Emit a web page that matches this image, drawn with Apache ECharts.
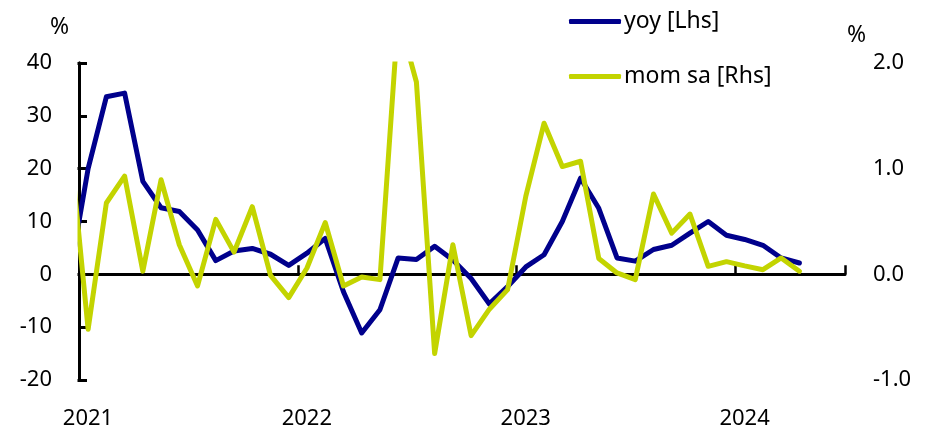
<!DOCTYPE html>
<html>
<head>
<meta charset="utf-8">
<script src="https://cdn.jsdelivr.net/npm/echarts@6/dist/echarts.min.js"></script>
<style>
html,body{margin:0;padding:0;background:#fff;}
#chart{width:932px;height:432px;}
</style>
</head>
<body>
<div id="chart"></div>
<script>
// Months from Dec 2020 to Apr 2024 (Dec 2020 lies just left of the axis and is clipped)
const months = ['2020-12',
 '2021-01','2021-02','2021-03','2021-04','2021-05','2021-06','2021-07','2021-08','2021-09','2021-10','2021-11','2021-12',
 '2022-01','2022-02','2022-03','2022-04','2022-05','2022-06','2022-07','2022-08','2022-09','2022-10','2022-11','2022-12',
 '2023-01','2023-02','2023-03','2023-04','2023-05','2023-06','2023-07','2023-08','2023-09','2023-10','2023-11','2023-12',
 '2024-01','2024-02','2024-03','2024-04'];
const yoy = [0.0,
 20.0,33.6,34.3,17.6,12.6,11.9,8.4,2.6,4.4,4.9,3.8,1.7,
 4.0,6.8,-3.3,-11.1,-6.7,3.1,2.8,5.3,2.7,-0.8,-5.6,-2.3,
 1.4,3.7,10.0,18.2,12.5,3.1,2.5,4.7,5.5,7.8,10.0,7.4,
 6.6,5.5,3.1,2.15];
const momSa = [1.25,
 -0.52,0.675,0.93,0.03,0.895,0.28,-0.11,0.52,0.21,0.64,-0.01,-0.22,
 0.06,0.49,-0.11,-0.025,-0.05,2.45,1.82,-0.75,0.28,-0.58,-0.33,-0.145,
 0.74,1.43,1.02,1.07,0.15,0.013,-0.05,0.76,0.39,0.57,0.076,0.12,
 0.08,0.044,0.155,0.03];
const leftTicks = {min:-20, max:40, interval:10};
const rightTicks = {min:-1, max:2, interval:1};
const firstYear = 2021;

// x position: months since Jan 2021, centred in the month
function monthPos(m){
  const [y, mo] = m.split('-').map(Number);
  return (y - firstYear) * 12 + (mo - 1) + 0.5;
}
const yoyData = months.map((m,i)=>[monthPos(m), yoy[i]]);
const momData = months.map((m,i)=>[monthPos(m), momSa[i]]);

const FONT = 'Noto Sans';
const BLUE = '#00008C';
const LIME = '#C3D400';

const GRID = {left:79, right:87, top:63, bottom:52};
const W = 932, H = 432;

const chart = echarts.init(document.getElementById('chart'), null, {renderer:'canvas'});
chart.setOption({
  animation:false,
  backgroundColor:'#fff',
  grid:Object.assign({containLabel:false, outerBoundsMode:'none'}, GRID),
  legend:{
    orient:'vertical', left:564, top:5, itemGap:32,
    itemWidth:52, itemHeight:5, icon:'roundRect',
    textStyle:{fontFamily:FONT, fontSize:23, color:'#000', padding:[0,0,0,-2]},
    data:['yoy [Lhs]','mom sa [Rhs]']
  },
  graphic:[
    // white masks hiding the small stroke overflow outside the plot area (clip expands by half a line width)
    {type:'rect', z:50, silent:true, shape:{x:GRID.left-10, y:GRID.top-10, width:8.5, height:H-GRID.top-GRID.bottom+20}, style:{fill:'#fff'}},
    {type:'rect', z:50, silent:true, shape:{x:GRID.left+3, y:GRID.top-5, width:470, height:3.5}, style:{fill:'#fff'}},
    {type:'text', z:60, left:50, top:16, style:{text:'%', fontFamily:FONT, fontSize:23, fill:'#000'}},
    {type:'text', z:60, left:847, top:24, style:{text:'%', fontFamily:FONT, fontSize:23, fill:'#000'}}
  ],
  xAxis:[{
    type:'value', min:0, max:42, interval:12,
    axisLine:{show:true, onZero:true, lineStyle:{color:'#000', width:3}},
    axisTick:{show:true, inside:true, length:9, lineStyle:{color:'#000', width:2.5}},
    axisLabel:{show:false},
    splitLine:{show:false}
  },{
    type:'value', min:0, max:42, interval:12, position:'bottom',
    axisLine:{show:false, onZero:false}, axisTick:{show:false},
    axisLabel:{
      show:true, margin:28, fontFamily:FONT, fontSize:22, color:'#000',
      padding:[0,0,0,18],
      formatter:v => (v % 12 === 0) ? String(firstYear + v/12) : ''
    },
    splitLine:{show:false}
  }],
  yAxis:[
    {type:'value', position:'left', min:leftTicks.min, max:leftTicks.max, interval:leftTicks.interval,
     axisLine:{show:true, lineStyle:{color:'#000', width:3}},
     axisTick:{show:true, inside:true, length:8, lineStyle:{color:'#000', width:3}},
     axisLabel:{margin:27, fontFamily:FONT, fontSize:22, color:'#000'},
     splitLine:{show:false}},
    {type:'value', position:'right', min:rightTicks.min, max:rightTicks.max, interval:rightTicks.interval,
     axisLine:{show:true, lineStyle:{color:'#000', width:3}},
     axisTick:{show:true, inside:true, length:8, lineStyle:{color:'#000', width:3}},
     axisLabel:{margin:28, fontFamily:FONT, fontSize:22, color:'#000', formatter:v=>v.toFixed(1)},
     splitLine:{show:false}}
  ],
  series:[
    {name:'yoy [Lhs]', type:'line', xAxisIndex:0, yAxisIndex:0, data:yoyData, symbol:'none', clip:true,
     itemStyle:{color:BLUE}, lineStyle:{color:BLUE, width:5, join:'round', cap:'round'}},
    {name:'mom sa [Rhs]', type:'line', xAxisIndex:0, yAxisIndex:1, data:momData, symbol:'none', clip:true,
     itemStyle:{color:LIME}, lineStyle:{color:LIME, width:5, join:'round', cap:'round'}}
  ]
});
</script>
</body>
</html>
